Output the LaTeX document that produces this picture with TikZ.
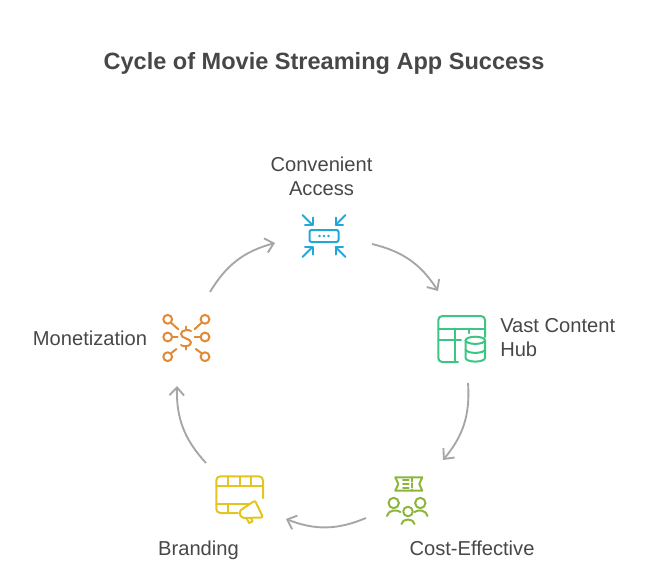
\documentclass[tikz,border=0pt]{standalone}
\usepackage{fontspec}
\setmainfont{Liberation Sans}
\usetikzlibrary{arrows.meta}
\definecolor{txt}{HTML}{474747}
\definecolor{cblue}{HTML}{22A7D8}
\definecolor{cgreen}{HTML}{3CC583}
\definecolor{colive}{HTML}{8DB53C}
\definecolor{cyellow}{HTML}{E4C41E}
\definecolor{corange}{HTML}{E08A36}
\definecolor{cgray}{HTML}{A6A6A6}
\tikzset{
  titletext/.style={font=\bfseries\fontsize{17.65}{22}\selectfont,text=txt,inner sep=0pt},
  label/.style={font=\fontsize{15.1}{18}\selectfont,text=txt,inner sep=0pt,align=left},
  labelc/.style={label,align=center},
  iconbox/.style={inner sep=0pt,minimum size=1pt},
  conn/.style={draw=cgray,line width=1.4pt,-{Straight Barb[length=6pt,width=11pt,line width=1.4pt]}},
  ic/.style={line width=1.5pt,line cap=round,line join=round,fill=none},
}
\begin{document}
\begin{tikzpicture}[x=0.75pt,y=-0.75pt]
\useasboundingbox (0,0) rectangle (651,583);
\node[titletext] (title) at (324,63) {Cycle of Movie Streaming App Success};
\node[labelc] (lconv) at (321.5,176) {Convenient\\Access};
\node[label,anchor=west] (lvast) at (500,338) {Vast Content\\Hub};
\node[label] (lcost) at (472,548) {Cost-Effective};
\node[label] (lbrand) at (198.5,550) {Branding};
\node[label] (lmon) at (90,338) {Monetization};
% icon anchors
\node[iconbox] (iaccess) at (324,236) {};
\node[iconbox] (ivast) at (462,339) {};
\node[iconbox] (icost) at (408,498) {};
\node[iconbox] (ibrand) at (239,497) {};
\node[iconbox] (imon) at (186,338) {};
% connectors
\draw[conn] ([shift={(48,8)}]iaccess.center) to[bend left=22] ([shift={(-24,-48)}]ivast.center);
\draw[conn] ([shift={(6,44)}]ivast.center) to[bend left=22] ([shift={(35,-38)}]icost.center);
\draw[conn] ([shift={(-42,20)}]icost.center) to[bend left=22] ([shift={(47,22)}]ibrand.center);
\draw[conn] ([shift={(-33,-34)}]ibrand.center) to[bend left=22] ([shift={(-9,48)}]imon.center);
\draw[conn] ([shift={(24,-46)}]imon.center) to[bend left=22] ([shift={(-49,7)}]iaccess.center);
% access icon
\begin{scope}[shift={(iaccess.center)},x=0.75pt,y=-0.75pt]
\draw[ic,draw=cblue,rounded corners=1.5pt] (-14.5,-6) rectangle (14.5,6);
\foreach \d in {-4.5,0,4.5} \fill[cblue] (\d,0) circle[radius=1.4];
\foreach \sx/\sy in {1/1,-1/1,1/-1,-1/-1}{
 \draw[ic,draw=cblue] (\sx*21.5,\sy*21) -- (\sx*11.5,\sy*11);
 \draw[ic,draw=cblue] (\sx*11.5,\sy*18.5) -- (\sx*11.5,\sy*11) -- (\sx*19,\sy*11);
}
\end{scope}
% vast icon
\begin{scope}[shift={(ivast.center)},x=0.75pt,y=-0.75pt]
\draw[ic,draw=cgreen,rounded corners=3pt] (-4,23) -- (-23.7,23) -- (-23.7,-23) -- (23,-23) -- (23,-2);
\draw[ic,draw=cgreen] (-23.7,-10.3) -- (23,-10.3);
\draw[ic,draw=cgreen] (-23.7,0.7) -- (-1,0.7);
\draw[ic,draw=cgreen] (-7,-10.3) -- (-7,23);
\draw[ic,draw=cgreen] (7.3,-10.3) -- (7.3,-6);
\draw[ic,draw=cgreen] (13.3,1.3) ellipse[x radius=9.7,y radius=3.6];
\draw[ic,draw=cgreen] (3.6,1.3) -- (3.6,19) arc[start angle=180,end angle=0,x radius=9.7,y radius=3.6] -- (23,1.3);
\draw[ic,draw=cgreen] (3.6,10.3) arc[start angle=180,end angle=0,x radius=9.7,y radius=3.6];
\end{scope}
% cost icon
\begin{scope}[shift={(icost.center)},x=0.75pt,y=-0.75pt]
\draw[ic,draw=colive] (-12.7,-20.7) -- (14.3,-20.7) -- (11.3,-14) -- (14.3,-7.3) -- (-12.7,-7.3) -- (-9.7,-14) -- cycle;
\draw[ic,draw=colive] (-5,-18.3) -- (0.7,-18.3) (-5,-14) -- (0.7,-14) (-5,-9.7) -- (0.7,-9.7);
\draw[ic,draw=colive,dash pattern=on 3pt off 1.6pt] (3.5,-20.7) -- (3.5,-7.3);
\draw[ic,draw=colive] (-14.3,5) circle[radius=5.2];
\draw[ic,draw=colive] (12.3,5) circle[radius=5.2];
\draw[ic,draw=colive] (0,13.5) circle[radius=4.8];
\draw[ic,draw=colive] (-21,18) .. controls (-20,12) and (-11,11) .. (-7.5,14);
\draw[ic,draw=colive] (19.5,18) .. controls (18.5,12) and (10,11) .. (6.5,14);
\draw[ic,draw=colive] (-6.5,26) .. controls (-6,20) and (6,20) .. (6.5,26);
\end{scope}
% brand icon
\begin{scope}[shift={(ibrand.center)},x=0.75pt,y=-0.75pt]
\draw[ic,draw=cyellow,rounded corners=3pt] (-1,16) -- (-22.7,16) -- (-22.7,-20.7) -- (24,-20.7) -- (24,1);
\draw[ic,draw=cyellow] (-22.7,-10.7) -- (24,-10.7);
\draw[ic,draw=cyellow] (-22.7,7) -- (10,7);
\draw[ic,draw=cyellow] (-11,-20.7) -- (-11,-10.7) (0.7,-20.7) -- (0.7,-10.7) (12.3,-20.7) -- (12.3,-10.7);
\draw[ic,draw=cyellow] (-11,7) -- (-11,16);
\draw[ic,draw=cyellow,rounded corners=1.5pt] (0,14.3) -- (16,3.5) -- (24,20.5) -- (2.5,21) -- cycle;
\draw[ic,draw=cyellow] (7.5,21) -- (10,26) -- (13.5,24.5) -- (12,21);
\end{scope}
% monetization icon
\begin{scope}[shift={(imon.center)},x=0.75pt,y=-0.75pt]
\foreach \px/\py in {-18.3/-18.7,19/-18.7,-18.3/-1,19/-1,-18.3/18.7,19/18.7}
  \draw[ic,draw=corange] (\px,\py) circle[radius=4.4];
\draw[ic,draw=corange] (-14.7,-15) -- (-7.7,-8.7);
\draw[ic,draw=corange] (15.3,-15) -- (8.5,-8.7);
\draw[ic,draw=corange] (-13.8,-1) -- (-8.3,-1);
\draw[ic,draw=corange] (14.5,-1) -- (8.7,-1);
\draw[ic,draw=corange] (-14.7,15) -- (-9.5,11);
\draw[ic,draw=corange] (15.3,15) -- (9.8,11);
\draw[ic,draw=corange] (5,-7) .. controls (3.5,-8.5) and (-5,-8.5) .. (-5,-4) .. controls (-5,1) and (5,0) .. (5,4.5) .. controls (5,9) and (-3.5,9) .. (-5,7);
\draw[ic,draw=corange] (0,-11.5) -- (0,-8) (0,8) -- (0,11.5);
\end{scope}
\end{tikzpicture}
\end{document}
